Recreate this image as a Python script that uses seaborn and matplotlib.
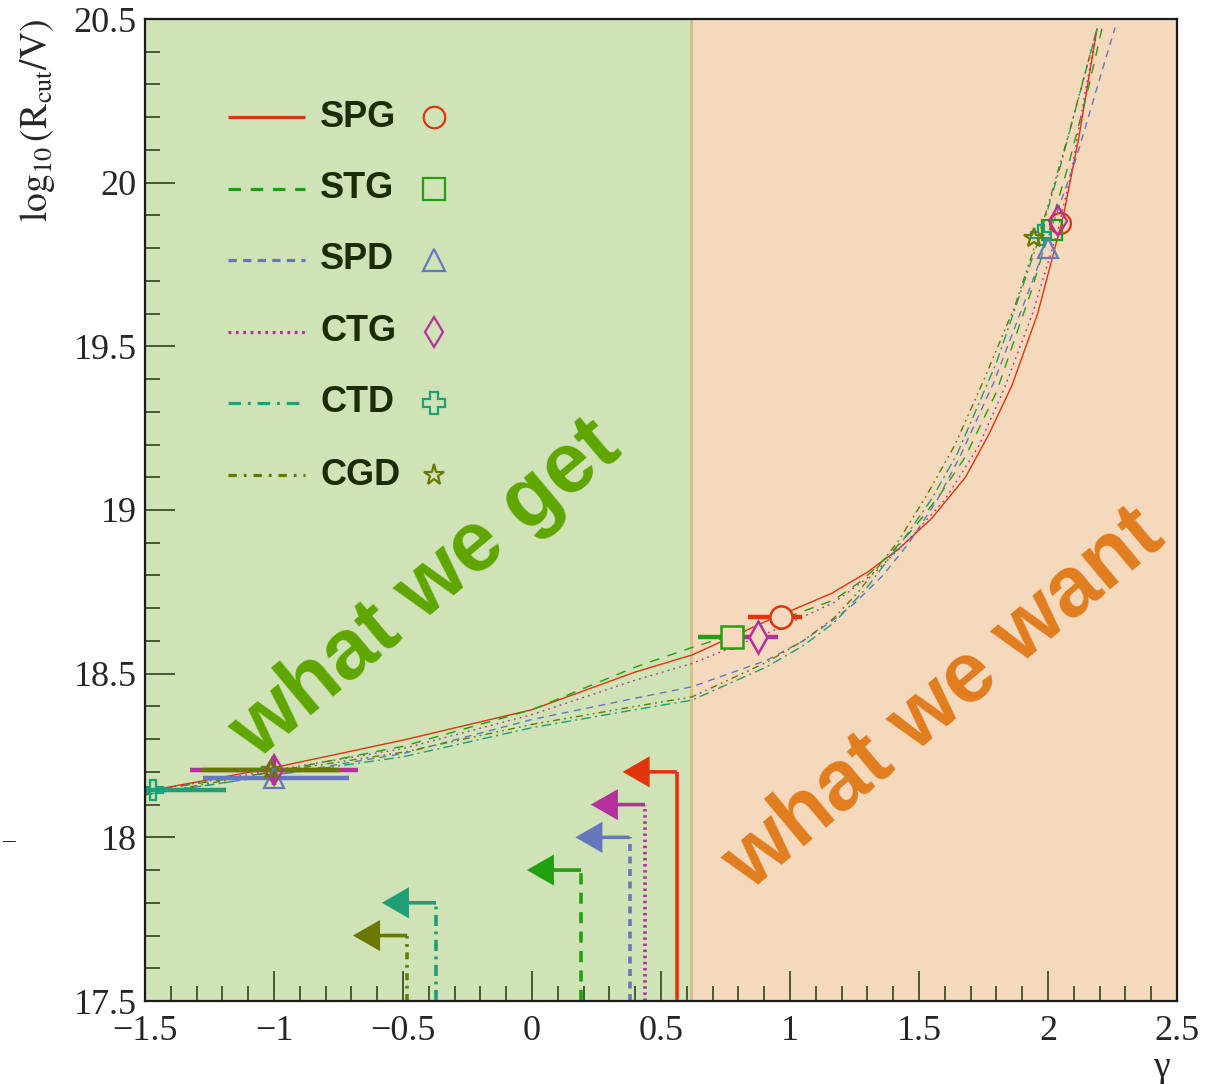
import numpy as np
import pandas as pd
import matplotlib
matplotlib.use("Agg")
import matplotlib.pyplot as plt
from matplotlib.ticker import MultipleLocator, FuncFormatter
import seaborn as sns

# models, colours, line styles
models = ["SPG", "STG", "SPD", "CTG", "CTD", "CGD"]
colors = ["#e0340c", "#22a010", "#6677bd", "#b5309a", "#1f9e78", "#6a7800"]
markers = ["o", "s", "^", "d", "P", "*"]
curve_ls = ["-", (0, (7, 6)), (0, (5, 4)), (0, (1.3, 3)), (0, (7, 3, 1.5, 3)), (0, (5, 3, 1.3, 3, 1.3, 3))]
legend_ls = ["-", (0, (9, 7)), (0, (6, 4.5)), (0, (2, 3.3)), (0, (9, 5, 2, 5)), (0, (6, 5, 2, 5))]
arrow_ls = ["-", (0, (8, 6)), (0, (5, 4)), (0, (1.8, 2.6)), (0, (8, 4, 2, 4)), (0, (5, 4, 2, 4))]

# R_cut vs gamma curves
spg_gamma = [-1.5, -1.0, -0.5, 0.0, 0.4, 0.62, 0.91, 1.16, 1.30, 1.42, 1.55, 1.68, 1.77, 1.86, 1.96, 2.06, 2.12, 2.19]
spg_logr = [18.14, 18.213, 18.297, 18.39, 18.505, 18.557, 18.661, 18.745, 18.81, 18.88, 18.975, 19.10, 19.23, 19.38, 19.60, 19.90, 20.14, 20.47]
stg_gamma = [-1.5, -1.0, -0.5, 0.0, 0.4, 0.62, 0.91, 1.17, 1.28, 1.38, 1.48, 1.58, 1.68, 1.80, 1.94, 2.08, 2.16, 2.21]
stg_logr = [18.14, 18.20, 18.278, 18.39, 18.52, 18.58, 18.65, 18.725, 18.785, 18.86, 18.945, 19.045, 19.163, 19.36, 19.68, 20.056, 20.30, 20.474]
spd_gamma = [-1.5, -1.0, -0.5, 0.0, 0.4, 0.62, 0.91, 1.05, 1.17, 1.25, 1.36, 1.46, 1.57, 1.66, 1.79, 1.95, 2.11, 2.19, 2.26]
spd_logr = [18.13, 18.19, 18.256, 18.36, 18.425, 18.46, 18.541, 18.60, 18.665, 18.715, 18.80, 18.898, 19.03, 19.165, 19.39, 19.72, 20.076, 20.29, 20.474]
ctg_gamma = [-1.5, -1.0, -0.5, 0.0, 0.4, 0.62, 0.91, 1.17, 1.33, 1.47, 1.60, 1.73, 1.83, 1.94, 2.04, 2.09, 2.14, 2.19]
ctg_logr = [18.14, 18.205, 18.271, 18.375, 18.48, 18.531, 18.623, 18.717, 18.81, 18.918, 19.031, 19.193, 19.37, 19.60, 19.86, 20.03, 20.26, 20.47]
ctd_gamma = [-1.5, -1.0, -0.5, 0.0, 0.4, 0.62, 0.91, 1.05, 1.17, 1.30, 1.44, 1.55, 1.65, 1.80, 1.97, 2.05, 2.19]
ctd_logr = [18.13, 18.19, 18.246, 18.335, 18.39, 18.419, 18.521, 18.585, 18.655, 18.765, 18.91, 19.035, 19.175, 19.45, 19.84, 20.056, 20.47]
cgd_gamma = [-1.5, -1.0, -0.5, 0.0, 0.4, 0.62, 0.91, 1.05, 1.17, 1.26, 1.35, 1.42, 1.53, 1.64, 1.75, 1.87, 1.99, 2.08, 2.19]
cgd_logr = [18.13, 18.20, 18.26, 18.345, 18.40, 18.429, 18.535, 18.60, 18.67, 18.745, 18.835, 18.905, 19.045, 19.20, 19.395, 19.62, 19.903, 20.148, 20.47]

curve_gamma = [spg_gamma, stg_gamma, spd_gamma, ctg_gamma, ctd_gamma, cgd_gamma]
curve_logr = [spg_logr, stg_logr, spd_logr, ctg_logr, ctd_logr, cgd_logr]

# fitted points, low gamma
low_models = ["CTD", "SPD", "CTG", "CGD"]
low_gamma = [-1.47, -1.0, -1.0, -1.01]
low_logr = [18.144, 18.18, 18.205, 18.205]
low_err_lo = [0.28, 0.276, 0.324, 0.273]
low_err_hi = [0.284, 0.292, 0.324, 0.262]
low_yerr = [0.0, 0.0, 0.045, 0.0]

# fitted points, intermediate gamma
mid_models = ["SPG", "STG", "CTG"]
mid_gamma = [0.965, 0.775, 0.877]
mid_logr = [18.674, 18.613, 18.613]
mid_err_lo = [0.129, 0.132, 0.06]
mid_err_hi = [0.08, 0.042, 0.078]
mid_yerr = [0.04, 0.04, 0.0]

# fitted points, high gamma
high_models = ["SPG", "STG", "SPD", "CTG", "CTD", "CGD"]
high_gamma = [2.047, 2.016, 1.999, 2.037, 1.973, 1.947]
high_logr = [19.877, 19.854, 19.80, 19.882, 19.841, 19.831]

# upper limits on gamma
lim_gamma = [0.561, 0.19, 0.378, 0.438, -0.372, -0.484]
lim_logr = [18.2, 17.9, 18.0, 18.1, 17.8, 17.7]

divider = 0.616
green_bg = "#cfe3b6"
peach_bg = "#f5d9bc"

sns.set_style("ticks")
plt.rcParams["font.family"] = ["Liberation Serif", "DejaVu Serif"]
plt.rcParams["mathtext.fontset"] = "stix"
plt.rcParams["lines.scale_dashes"] = False

fig = plt.figure(figsize=(12.12, 10.84), dpi=100)
ax = fig.add_axes([145 / 1212, 1 - 1001 / 1084, 1032 / 1212, 982 / 1084])

ax.axvspan(-1.5, divider, color=green_bg, lw=0, zorder=0)
ax.axvspan(divider, 2.5, color=peach_bg, lw=0, zorder=0)
ax.axvline(divider, color="#d5c08c", lw=2.2, zorder=0.5)

ax.text(-0.41, 18.755, "what we get", rotation=40, ha="center", va="center",
        fontsize=61, fontweight="bold", color="#5fa600", family="Liberation Sans", zorder=1)
ax.text(1.60, 18.42, "what we want", rotation=40, ha="center", va="center",
        fontsize=61, fontweight="bold", color="#e07d1f", family="Liberation Sans", zorder=1)

# curves
for i, m in enumerate(models):
    df = pd.DataFrame({"gamma": curve_gamma[i], "logr": curve_logr[i]})
    sns.lineplot(data=df, x="gamma", y="logr", sort=False, estimator=None, ax=ax,
                 color=colors[i], ls=curve_ls[i], lw=1.0, zorder=2)

ci = {m: i for i, m in enumerate(models)}

# low gamma fits
for j, m in enumerate(low_models):
    i = ci[m]
    ax.errorbar(low_gamma[j], low_logr[j], xerr=[[low_err_lo[j]], [low_err_hi[j]]],
                yerr=low_yerr[j], fmt=markers[i], color=colors[i], ms=15, mfc="none",
                mew=1.6, elinewidth=3.2, capsize=0, zorder=4)

# intermediate gamma fits
for j, m in enumerate(mid_models):
    i = ci[m]
    ax.errorbar(mid_gamma[j], mid_logr[j], xerr=[[mid_err_lo[j]], [mid_err_hi[j]]],
                yerr=[[mid_yerr[j]], [0.0]], fmt=markers[i], color=colors[i], ms=16,
                mfc=peach_bg, mew=1.8, elinewidth=3.2, capsize=0, zorder=4)

# high gamma fits
for j, m in enumerate(high_models):
    i = ci[m]
    ax.plot(high_gamma[j], high_logr[j], marker=markers[i], color=colors[i], ms=15,
            mfc="none", mew=1.6, ls="none", zorder=4)

# limits with arrows
for i, m in enumerate(models):
    ax.plot([lim_gamma[i], lim_gamma[i]], [17.5, lim_logr[i]], color=colors[i],
            ls=arrow_ls[i], lw=2.6, zorder=3, solid_capstyle="butt")
    ax.arrow(lim_gamma[i], lim_logr[i], -0.21, 0, width=0.011, head_width=0.095,
             head_length=0.105, length_includes_head=True, color=colors[i], lw=0, zorder=3)

# legend drawn by hand
rows = [0.9002, 0.8269, 0.7546, 0.6813, 0.609, 0.5356]
for i, m in enumerate(models):
    ax.plot([0.0804, 0.155], [rows[i], rows[i]], transform=ax.transAxes, color=colors[i],
            ls=legend_ls[i], lw=2.3, solid_capstyle="butt", zorder=5)
    ax.text(0.1696, rows[i], m, transform=ax.transAxes, ha="left", va="center",
            fontsize=26, fontweight="bold", color="#1c2c08", family="Liberation Sans", zorder=5)
    ax.plot([0.280], [rows[i]], transform=ax.transAxes, marker=markers[i], color=colors[i],
            ms=15.5, mfc="none", mew=1.6, ls="none", zorder=5)

ax.set_xlim(-1.5, 2.5)
ax.set_ylim(17.5, 20.5)
ax.xaxis.set_major_locator(MultipleLocator(0.5))
ax.xaxis.set_minor_locator(MultipleLocator(0.1))
ax.yaxis.set_major_locator(MultipleLocator(0.5))
ax.yaxis.set_minor_locator(MultipleLocator(0.1))
fmt = FuncFormatter(lambda v, p: f"{v:g}".replace("-", "\u2212"))
ax.xaxis.set_major_formatter(fmt)
ax.yaxis.set_major_formatter(fmt)
ax.tick_params(which="both", direction="in", color="#25340f", width=1.1, labelsize=26)
ax.tick_params(which="major", length=21.5)
ax.tick_params(which="minor", length=11)
ax.tick_params(axis="x", pad=10)
ax.tick_params(axis="y", pad=6)
for s in ax.spines.values():
    s.set_linewidth(1.6)
    s.set_color("#1a1a1a")
    s.set_zorder(6)

ax.set_xlabel("\u03b3", fontsize=27, loc="right")
ax.xaxis.set_label_coords(0.993, -0.05)
ax.set_ylabel(r"$\log_{10}(\mathrm{R}_{\mathrm{cut}}/\mathrm{V})$", fontsize=27, loc="top")
ax.yaxis.set_label_coords(-0.085, 1.0)

fig.text(8 / 1212, 1 - 840 / 1084, "\u2013", fontsize=18, ha="center", va="center")

fig.savefig("out.png", dpi=100)
